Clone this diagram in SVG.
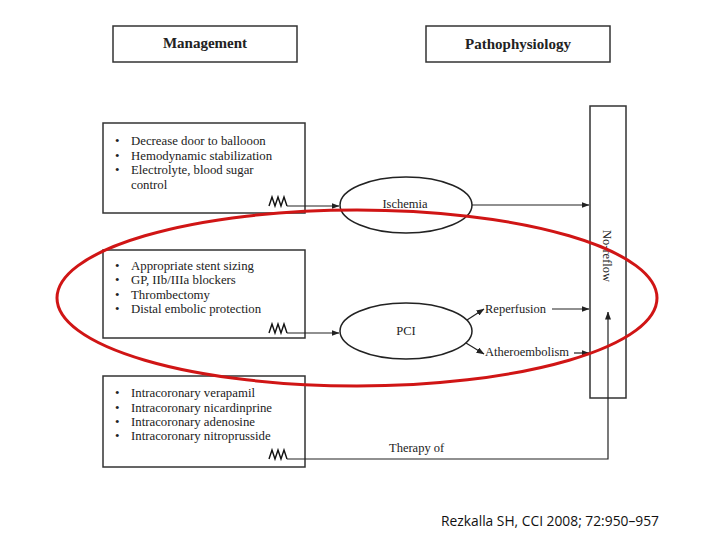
<svg xmlns="http://www.w3.org/2000/svg" width="720" height="540" viewBox="0 0 720 540">
<style>
.box{fill:#fff;stroke:#333;stroke-width:1.5}
.ell{fill:#fff;stroke:#222;stroke-width:1.5}
.hd{font-family:"Liberation Serif",serif;font-weight:bold;font-size:15px;fill:#222;text-anchor:middle}
.t{font-family:"Liberation Serif",serif;font-size:12.8px;fill:#222}
.s{font-family:"Liberation Serif",serif;font-size:12.5px;fill:#222}
.c{fill:none;stroke:#222;stroke-width:1.2}
.zz{fill:none;stroke:#111;stroke-width:1.4;stroke-linejoin:miter}
.cite{font-family:"Open Sans","Liberation Sans",sans-serif;font-size:13.8px;fill:#111}
</style>
<defs>
<marker id="ah" markerWidth="8" markerHeight="6" refX="7.5" refY="3" orient="auto" markerUnits="userSpaceOnUse">
<path d="M0,0 L8,3 L0,6 Z" fill="#222"/>
</marker>
</defs>
<rect width="720" height="540" fill="#fff"/>

<g id="management">
<rect class="box" x="113" y="26" width="184" height="36"/>
<text class="hd" x="205" y="48">Management</text>
</g>
<g id="pathophysiology">
<rect class="box" x="426" y="26" width="184" height="36"/>
<text class="hd" x="518" y="49">Pathophysiology</text>
</g>

<g id="box1">
<rect class="box" x="103" y="123" width="202" height="90"/>
<text class="t" x="115" y="145">•</text><text class="t" x="131" y="145">Decrease door to ballooon</text>
<text class="t" x="115" y="160">•</text><text class="t" x="131" y="160">Hemodynamic stabilization</text>
<text class="t" x="115" y="174">•</text><text class="t" x="131" y="174">Electrolyte, blood sugar</text>
<text class="t" x="131" y="189">control</text>
</g>
<g id="box2">
<rect class="box" x="103" y="250" width="202" height="88"/>
<text class="t" x="115" y="270">•</text><text class="t" x="131" y="270">Appropriate stent sizing</text>
<text class="t" x="115" y="284">•</text><text class="t" x="131" y="284">GP, IIb/IIIa blockers</text>
<text class="t" x="115" y="299">•</text><text class="t" x="131" y="299">Thrombectomy</text>
<text class="t" x="115" y="313">•</text><text class="t" x="131" y="313">Distal embolic protection</text>
</g>
<g id="box3">
<rect class="box" x="103" y="376" width="202" height="91"/>
<text class="t" x="115" y="397">•</text><text class="t" x="131" y="397">Intracoronary verapamil</text>
<text class="t" x="115" y="412">•</text><text class="t" x="131" y="412">Intracoronary nicardinprine</text>
<text class="t" x="115" y="426">•</text><text class="t" x="131" y="426">Intracoronary adenosine</text>
<text class="t" x="115" y="440">•</text><text class="t" x="131" y="440">Intracoronary nitroprusside</text>
</g>

<g id="ischemia">
<ellipse class="ell" cx="406" cy="205" rx="66" ry="28"/>
<text class="s" x="405" y="208" text-anchor="middle">Ischemia</text>
</g>
<g id="pci">
<ellipse class="ell" cx="406" cy="331" rx="66" ry="28"/>
<text class="s" x="406" y="335" text-anchor="middle">PCI</text>
</g>
<g id="reperfusion">
<text class="s" x="485" y="313">Reperfusion</text>
</g>
<g id="atheroembolism">
<text class="s" x="485" y="356">Atheroembolism</text>
</g>
<g id="therapy">
<text class="s" x="389" y="452">Therapy of</text>
</g>
<g id="noreflow">
<rect class="box" x="590" y="106" width="36" height="292"/>
<text class="s" x="0" y="0" text-anchor="middle" transform="translate(603,256) rotate(90)">No-reflow</text>
</g>

<g id="connectors">
<path class="zz" d="M269,206 L272,197 L275,206 L278,197 L281,206 L284,197 L287,206"/>
<path class="c" d="M287,206 L339,206" marker-end="url(#ah)"/>
<path class="c" d="M472,205 L589,205" marker-end="url(#ah)"/>
<path class="zz" d="M269,333 L272,324 L275,333 L278,324 L281,333 L284,324 L287,333"/>
<path class="c" d="M287,333 L339,333" marker-end="url(#ah)"/>
<path class="c" d="M467,320 L484,309" marker-end="url(#ah)"/>
<path class="c" d="M552,309 L589,309" marker-end="url(#ah)"/>
<path class="c" d="M466,343 L484,354" marker-end="url(#ah)"/>
<path class="c" d="M574,353 L589,353" marker-end="url(#ah)"/>
<path class="zz" d="M269,459 L272,450 L275,459 L278,450 L281,459 L284,450 L287,459"/>
<path class="c" d="M287,459 L608,459 L608,312" marker-end="url(#ah)"/>
</g>

<ellipse cx="357" cy="298" rx="300" ry="88" fill="none" stroke="#d01515" stroke-width="3"/>

<text class="cite" x="441" y="526">Rezkalla SH, CCI 2008; 72:950–957</text>
</svg>
